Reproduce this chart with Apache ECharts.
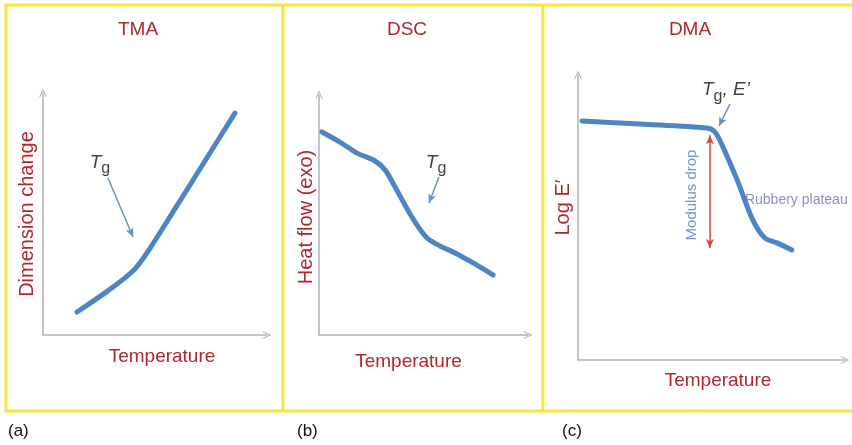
<!DOCTYPE html>
<html>
<head>
<meta charset="utf-8">
<script src="https://cdn.jsdelivr.net/npm/echarts@6/dist/echarts.min.js"></script>
<style>
html, body { margin: 0; padding: 0; background: #fff; }
#main { width: 852px; height: 445px; }
</style>
</head>
<body>
<div id="main"></div>
<script>
// curves, every axis runs 0..100 (arbitrary units)
var tmaX = [15.2, 27.7, 36.6, 41.1, 46.4, 58.9, 72.3, 85.7];
var tmaY = [9.5, 17.4, 23.6, 27.3, 33.9, 52.1, 71.9, 91.7];

var dscX = [1.4, 10.0, 18.2, 26.8, 31.6, 36.4, 41.1, 45.9, 51.7, 57.9, 65.1, 74.6, 83.3];
var dscY = [84.6, 80.4, 75.8, 72.5, 68.8, 61.7, 54.2, 47.1, 40.4, 37.1, 34.2, 29.6, 25.0];

var dmaX = [1.5, 23.2, 48.3, 51.3, 54.3, 59.6, 65.5, 70.0, 74.5, 80.1];
var dmaY = [83.9, 82.8, 81.4, 80.0, 74.7, 63.2, 49.1, 42.8, 41.1, 38.6];

// annotation anchors [x, y] in the same units
var tgArrowA = [[29.0, 64.9], [40.2, 40.5]];
var tgLabelA = [25.4, 71.1];
var tgArrowB = [[57.4, 65.8], [52.6, 55.0]];
var tgLabelB = [56.0, 71.7];
var tgArrowC = [[56.9, 89.8], [52.8, 82.1]];
var tgLabelC = [55.4, 94.7];
var dropArrow = [[49.4, 78.9], [49.4, 39.3]];
var dropLabel = [42.7, 57.9];
var plateauLabel = [62.5, 56.1];

var panelTitles = ['TMA', 'DSC', 'DMA'];
var yNames = ['Dimension change', 'Heat flow (exo)', 'Log E\u2032'];
var xName = 'Temperature';
var panelTags = ['(a)', '(b)', '(c)'];

var FONT = '"Liberation Sans", Arial, sans-serif';
var lineBlue = '#4d84c3';
var arrowBlue = '#6a93c2';
var axisGray = '#b2b2b2';
var darkRed = '#b1272d';
var frameYellow = '#f3e83e';

function pairs(xs, ys) {
  return xs.map(function (x, i) { return [x, ys[i]]; });
}

var chevron = 'path://M5 0L10 11L9 12L5 3L1 12L0 11Z';

function axisBase(i) {
  return {
    type: 'value', min: 0, max: 100, gridIndex: i,
    axisLine: {
      show: true, symbol: ['none', chevron], symbolSize: [9, 9],
      lineStyle: { color: axisGray, width: 1.5 }
    },
    axisTick: { show: false },
    axisLabel: { show: false },
    splitLine: { show: false }
  };
}

function xAxisFor(i, gap, pad) {
  var a = axisBase(i);
  a.name = xName;
  a.nameLocation = 'middle';
  a.nameGap = gap;
  a.nameTextStyle = { color: darkRed, fontSize: 19, fontFamily: FONT, padding: pad };
  return a;
}

function yAxisFor(i, gap, pad) {
  var a = axisBase(i);
  a.name = yNames[i];
  a.nameLocation = 'middle';
  a.nameRotate = 90;
  a.nameGap = gap;
  a.nameTextStyle = { color: darkRed, fontSize: 20, fontFamily: FONT, padding: pad };
  return a;
}

var tgRich = {
  t: { fontSize: 19, fontStyle: 'italic', fontFamily: FONT, color: '#111' },
  g: { fontSize: 16, fontFamily: FONT, color: '#111', padding: [12, 0, 0, 0] }
};

function curve(i, xs, ys, arrows) {
  return {
    type: 'line', xAxisIndex: i, yAxisIndex: i,
    data: pairs(xs, ys),
    smooth: 0.3,
    showSymbol: false, silent: true,
    lineStyle: { color: lineBlue, width: 5, cap: 'round', join: 'round' },
    markLine: {
      silent: true, animation: false,
      symbol: ['none', 'arrow'], symbolSize: [6, 9],
      label: { show: false },
      lineStyle: { color: arrowBlue, width: 1.5, type: 'solid' },
      data: arrows
    }
  };
}

function notes(i, items) {
  return {
    type: 'scatter', xAxisIndex: i, yAxisIndex: i,
    symbolSize: 0.1, silent: true,
    itemStyle: { color: 'rgba(0,0,0,0)' },
    data: items
  };
}

var tgItem = function (pos, text) {
  return {
    value: pos,
    label: { show: true, position: 'inside', formatter: text, rich: tgRich }
  };
};

var chart = echarts.init(document.getElementById('main'));

var graphics = [
  { type: 'rect', shape: { x: 6, y: 5, width: 900, height: 406 },
    style: { fill: 'none', stroke: frameYellow, lineWidth: 3 } },
  { type: 'line', shape: { x1: 283, y1: 5, x2: 283, y2: 411 },
    style: { stroke: frameYellow, lineWidth: 3 } },
  { type: 'line', shape: { x1: 543, y1: 5, x2: 543, y2: 411 },
    style: { stroke: frameYellow, lineWidth: 3 } }
];
var titleX = [138, 407, 690];
var tagX = [8, 297, 562];
panelTitles.forEach(function (t, i) {
  graphics.push({ type: 'text', x: titleX[i], y: 30,
    style: { text: t, fill: darkRed, fontSize: 19, fontFamily: FONT, align: 'center', verticalAlign: 'middle' } });
  graphics.push({ type: 'text', x: tagX[i], y: 431,
    style: { text: panelTags[i], fill: '#111', fontSize: 17, fontFamily: FONT, align: 'left', verticalAlign: 'middle' } });
});

chart.setOption({
  animation: false,
  backgroundColor: '#fff',
  grid: [
    { left: 43, top: 93, width: 224, height: 242 },
    { left: 319, top: 95, width: 209, height: 240 },
    { left: 578, top: 75, width: 267, height: 285 }
  ],
  xAxis: [
    xAxisFor(0, 12, [0, 0, 0, 14]),
    xAxisFor(1, 17, [0, 30, 0, 0]),
    xAxisFor(2, 11, [0, 0, 0, 13])
  ],
  yAxis: [
    yAxisFor(0, 6, [0, 0, 0, 0]),
    yAxisFor(1, 3, [0, 4, 0, 0]),
    yAxisFor(2, 5, [0, 0, 0, 20])
  ],
  series: [
    curve(0, tmaX, tmaY, [[{ coord: tgArrowA[0] }, { coord: tgArrowA[1] }]]),
    curve(1, dscX, dscY, [[{ coord: tgArrowB[0] }, { coord: tgArrowB[1] }]]),
    curve(2, dmaX, dmaY, [
      [{ coord: tgArrowC[0] }, { coord: tgArrowC[1] }],
      [{ coord: dropArrow[0], symbol: 'arrow', lineStyle: { color: '#d9434f', width: 1.5 } },
       { coord: dropArrow[1], symbol: 'arrow' }]
    ]),
    notes(0, [tgItem(tgLabelA, '{t|T}{g|g}')]),
    notes(1, [tgItem(tgLabelB, '{t|T}{g|g}')]),
    notes(2, [
      tgItem(tgLabelC, '{t|T}{g|g}{t|, E\u2019}'),
      { value: dropLabel,
        label: { show: true, position: 'inside', rotate: 90, formatter: 'Modulus drop',
          color: '#4a80c6', fontSize: 15, fontFamily: FONT } },
      { value: plateauLabel,
        label: { show: true, position: 'right', distance: 0, formatter: 'Rubbery plateau',
          color: '#6f70c2', fontSize: 14, fontFamily: FONT } }
    ])
  ],
  graphic: graphics
});
</script>
</body>
</html>
